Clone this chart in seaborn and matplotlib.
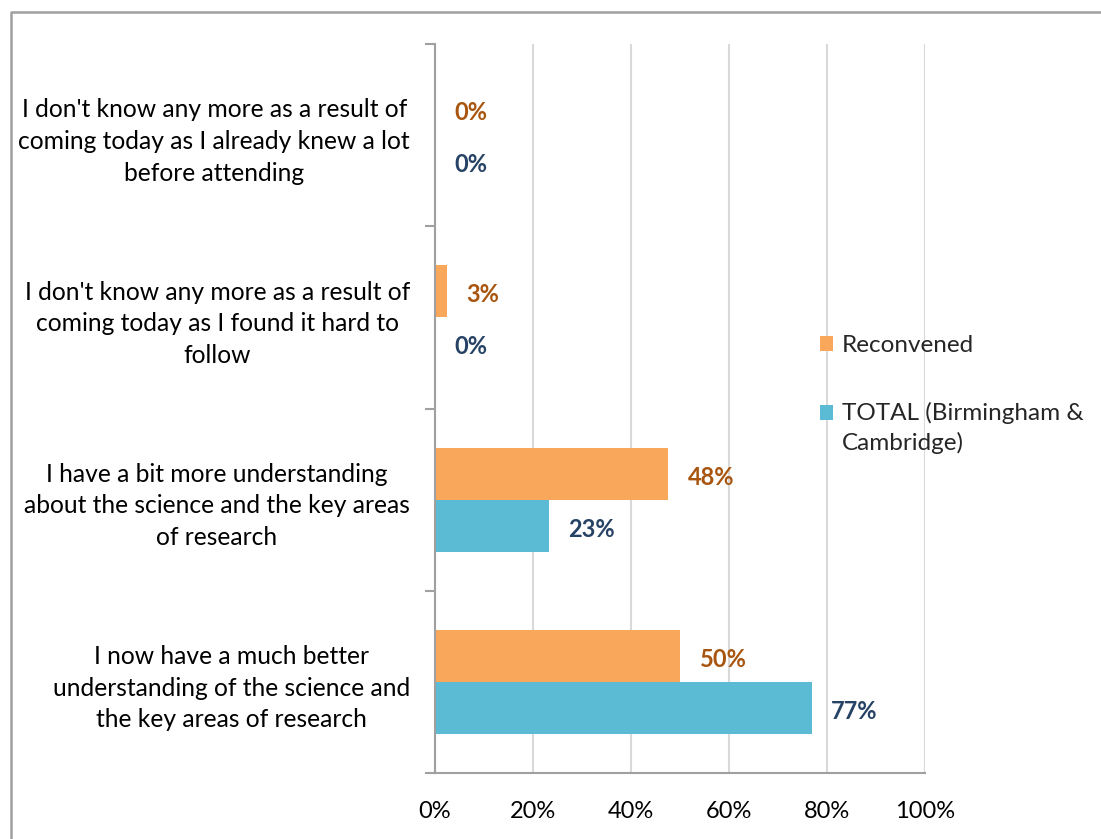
import matplotlib
matplotlib.use("Agg")
import matplotlib.pyplot as plt
import seaborn as sns
import pandas as pd
from matplotlib.lines import Line2D
from matplotlib.ticker import FuncFormatter

categories = [
    "I don't know any more as a result of\ncoming today as I already knew a lot\nbefore attending",
    "I don't know any more as a result of\ncoming today as I found it hard to\nfollow",
    "I have a bit more understanding\nabout the science and the key areas\nof research",
    "I now have a much better\nunderstanding of the science and\nthe key areas of research",
]
series_names = ["Reconvened", "TOTAL (Birmingham &\nCambridge)"]
reconvened = [0.0, 2.5, 47.6, 50.1]
total = [0.0, 0.0, 23.3, 76.9]
x_ticks = [0, 20, 40, 60, 80, 100]

colors = ["#F9A75A", "#5BBBD5"]
label_colors = ["#A8550F", "#264264"]

df = pd.DataFrame({
    "category": categories * 2,
    "series": [series_names[0]] * 4 + [series_names[1]] * 4,
    "value": reconvened + total,
})

sns.set_theme(style="white")
plt.rcParams["font.family"] = ["Lato", "DejaVu Sans"]

fig = plt.figure(figsize=(11.01, 8.39), dpi=100)
ax = fig.add_axes([435 / 1101, 1 - 773 / 839, (925 - 435) / 1101, (773 - 44) / 839])

sns.barplot(data=df, y="category", x="value", hue="series", order=categories,
            hue_order=series_names, palette=colors, orient="h", width=0.57,
            saturation=1, ax=ax, legend=True, linewidth=0)

ax.set_xlim(0, 100)
ax.set_ylim(3.5, -0.5)
ax.set_xticks(x_ticks)
ax.xaxis.set_major_formatter(FuncFormatter(lambda v, p: f"{int(v)}%"))
ax.set_xlabel("")
ax.set_ylabel("")

ax.grid(axis="x", color="#D9D9D9", linewidth=1.5)
ax.set_axisbelow(True)

for s in ["top", "right"]:
    ax.spines[s].set_visible(False)
for s in ["left", "bottom"]:
    ax.spines[s].set_color("#A0A0A0")
    ax.spines[s].set_linewidth(1.5)

ax.tick_params(axis="x", which="major", direction="out", length=7, width=1.5,
               color="#A0A0A0", labelsize=17, pad=13, labelcolor="black")
ax.tick_params(axis="y", which="major", length=0, labelsize=17.7, pad=18, labelcolor="black")
ax.set_yticks([-0.5, 0.5, 1.5, 2.5, 3.5], minor=True)
ax.tick_params(axis="y", which="minor", direction="out", length=7, width=1.5,
               color="#A0A0A0", left=True)
for lbl in ax.get_yticklabels():
    lbl.set_multialignment("center")
    lbl.set_linespacing(1.46)

for cont, lc in zip(ax.containers, label_colors):
    texts = ax.bar_label(cont, labels=[f"{int(v + 0.5)}%" for v in cont.datavalues],
                         padding=14, color=lc, fontsize=17, fontweight="bold")
    for t in texts:
        t.xyann = (14, -2.5)

leg = ax.legend(loc="upper left", bbox_to_anchor=(820 / 1101, 1 - 335 / 839),
                bbox_transform=fig.transFigure, frameon=False, fontsize=17.5,
                handlelength=0.55, handleheight=0.55, handletextpad=0.35,
                labelspacing=1.9, borderaxespad=0, borderpad=0)
for t in leg.get_texts():
    t.set_linespacing(1.4)
h2 = leg.legend_handles[1]
h2.set_y(h2.get_y() + 11.0)

frame_color = "#A0A0A0"
fig.add_artist(Line2D([11 / 1101, 11 / 1101, 1.0], [0.0, 1 - 12 / 839, 1 - 12 / 839],
                      transform=fig.transFigure, color=frame_color, linewidth=1.8))

fig.savefig("out.png", dpi=100)
